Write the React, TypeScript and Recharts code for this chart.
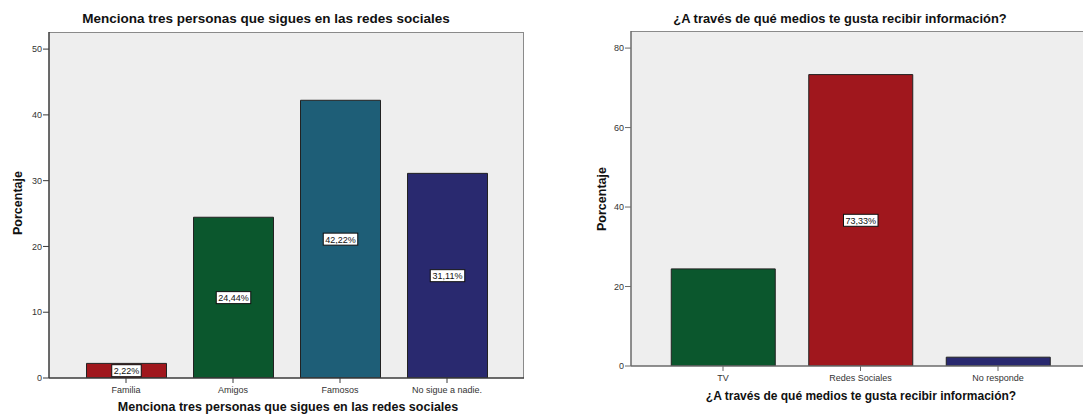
import React from 'react';
import { BarChart, Bar, XAxis, YAxis, LabelList, Cell } from 'recharts';

// Menciona tres personas que sigues en las redes sociales
const personasCats = ['Familia', 'Amigos', 'Famosos', 'No sigue a nadie.'];
const personasPct = [2.22, 24.44, 42.22, 31.11];
const personasColors = ['#a0171d', '#0b572d', '#1e5e77', '#29296f'];
const personasLabeled = [true, true, true, true];
const personasTicks = [0, 10, 20, 30, 40, 50];

// ¿A través de qué medios te gusta recibir información?
const mediosCats = ['TV', 'Redes Sociales', 'No responde'];
const mediosPct = [24.44, 73.33, 2.22];
const mediosColors = ['#0b572d', '#a0171d', '#29296f'];
const mediosLabeled = [false, true, false];
const mediosTicks = [0, 20, 40, 60, 80];

const FONT = '"Liberation Sans", Arial, sans-serif';

const fmtPct = (v: number) => v.toFixed(2).replace('.', ',') + '%';

const textWidth = (s: string) => {
  let w = 0;
  for (const ch of s) {
    if (ch === ',' || ch === '.') w += 2.5;
    else if (ch === '%') w += 8;
    else w += 5;
  }
  return w;
};

const valueBox = (labeled: boolean[]) => (props: any) => {
  const { x, y, width, height, value, index } = props;
  if (!labeled[index]) return null;
  const text = fmtPct(Number(value));
  const w = textWidth(text) + 4;
  const cx = Number(x) + Number(width) / 2;
  const cy = Number(y) + Number(height) / 2;
  return (
    <g>
      <rect x={cx - w / 2} y={cy - 6} width={w} height={12} fill="#fff" stroke="#111" strokeWidth={1} />
      <text x={cx} y={cy + 0.5} textAnchor="middle" dominantBaseline="central" fontSize={9} fontFamily={FONT} fill="#111">
        {text}
      </text>
    </g>
  );
};

interface PanelProps {
  left: number;
  width: number;
  cats: string[];
  values: number[];
  colors: string[];
  labeled: boolean[];
  ticks: number[];
  yMax: number;
  plot: { left: number; top: number; right: number; bottom: number };
  pad: number;
  barSize: number;
  title: string;
  titleX: number;
  titleSize: number;
  xTitleX: number;
  xTitleY: number;
  xTitleSize: number;
  yTitleX: number;
  yTitleY: number;
  axisColor: string;
}

const Panel: React.FC<PanelProps> = (p) => {
  const H = 419;
  const data = p.cats.map((c, i) => ({ cat: c, pct: p.values[i] }));
  const { plot } = p;
  return (
    <div style={{ position: 'absolute', left: p.left, top: 0, width: p.width, height: H }}>
      {/* plot frame */}
      <div
        style={{
          position: 'absolute',
          left: plot.left,
          top: plot.top,
          width: plot.right - plot.left,
          height: plot.bottom - plot.top,
          background: '#eeeeee',
          borderTop: '1.5px solid #8a8a8a',
          borderRight: '1.5px solid #8a8a8a',
          boxSizing: 'border-box',
        }}
      />
      <div style={{ position: 'absolute', left: 0, top: 0 }}>
        <BarChart
          width={p.width}
          height={H}
          data={data}
          margin={{ top: plot.top, right: p.width - plot.right, bottom: 0, left: 0 }}
        >
          <XAxis
            dataKey="cat"
            height={H - plot.bottom}
            padding={{ left: p.pad, right: p.pad }}
            axisLine={{ stroke: p.axisColor, strokeWidth: 1.5 }}
            tickLine={{ stroke: p.axisColor }}
            tickSize={5}
            tickMargin={4}
            interval={0}
            tick={{ fill: '#333', fontSize: 9, fontFamily: FONT }}
          />
          <YAxis
            width={plot.left}
            domain={[0, p.yMax]}
            ticks={p.ticks}
            allowDataOverflow
            axisLine={{ stroke: p.axisColor, strokeWidth: 1.5 }}
            tickLine={{ stroke: p.axisColor }}
            tickSize={6}
            tickMargin={1}
            tick={{ fill: '#333', fontSize: 9, fontFamily: FONT }}
          />
          <Bar dataKey="pct" barSize={p.barSize} stroke="#222" strokeWidth={1} isAnimationActive={false}>
            {data.map((d, i) => (
              <Cell key={d.cat} fill={p.colors[i]} />
            ))}
            <LabelList dataKey="pct" content={valueBox(p.labeled)} />
          </Bar>
        </BarChart>
      </div>
      <div
        style={{
          position: 'absolute',
          left: p.titleX - 300,
          width: 600,
          top: 11,
          textAlign: 'center',
          fontFamily: FONT,
          fontWeight: 'bold',
          fontSize: p.titleSize,
          color: '#111',
          whiteSpace: 'nowrap',
        }}
      >
        {p.title}
      </div>
      <div
        style={{
          position: 'absolute',
          left: p.xTitleX - 300,
          width: 600,
          top: p.xTitleY - 8,
          textAlign: 'center',
          fontFamily: FONT,
          fontWeight: 'bold',
          fontSize: p.xTitleSize,
          color: '#111',
          whiteSpace: 'nowrap',
        }}
      >
        {p.title}
      </div>
      <div
        style={{
          position: 'absolute',
          left: p.yTitleX - 50,
          top: p.yTitleY - 8,
          width: 100,
          textAlign: 'center',
          fontFamily: FONT,
          fontWeight: 'bold',
          fontSize: 12.5,
          color: '#111',
          transform: 'rotate(-90deg)',
        }}
      >
        Porcentaje
      </div>
    </div>
  );
};

const App: React.FC = () => {
  return (
    <div style={{ position: 'absolute', left: 0, top: 0, width: 1083, height: 419, overflow: 'hidden', background: '#fff' }}>
      <Panel
        left={0}
        width={540}
        cats={personasCats}
        values={personasPct}
        colors={personasColors}
        labeled={personasLabeled}
        ticks={personasTicks}
        yMax={52.6}
        plot={{ left: 49, top: 32, right: 524, bottom: 378 }}
        pad={23.5}
        barSize={80}
        title="Menciona tres personas que sigues en las redes sociales"
        titleX={266}
        titleSize={13.5}
        xTitleX={288}
        xTitleY={408}
        xTitleSize={12.5}
        yTitleX={18}
        yTitleY={204}
        axisColor="#3a3a3a"
      />
      <Panel
        left={540}
        width={560}
        cats={mediosCats}
        values={mediosPct}
        colors={mediosColors}
        labeled={mediosLabeled}
        ticks={mediosTicks}
        yMax={84.3}
        plot={{ left: 91, top: 31, right: 550, bottom: 366 }}
        pad={23.25}
        barSize={104}
        title="¿A través de qué medios te gusta recibir información?"
        titleX={300}
        titleSize={12.9}
        xTitleX={321}
        xTitleY={397}
        xTitleSize={12}
        yTitleX={62}
        yTitleY={200}
        axisColor="#6a6a6a"
      />
    </div>
  );
};

export default App;
